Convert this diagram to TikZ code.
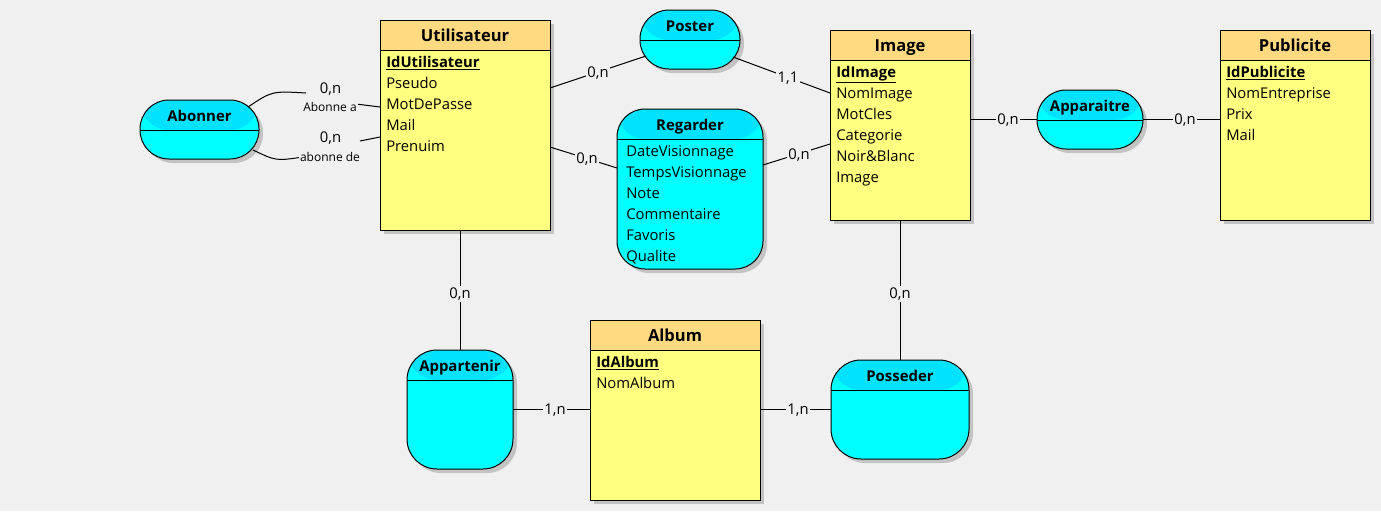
\documentclass[tikz,border=0pt]{standalone}
\usepackage{fontspec}
\setmainfont{Open Sans}
\usetikzlibrary{shadows,calc}
\newcommand\pxu{0.75pt}
\definecolor{bg}{RGB}{240,240,240}
\definecolor{enthead}{RGB}{255,218,128}
\definecolor{entbody}{RGB}{255,255,128}
\definecolor{asshead}{RGB}{0,226,255}
\definecolor{assbody}{RGB}{0,255,255}
\definecolor{shadowc}{RGB}{195,195,195}
\newcommand\keyattr[1]{\underline{\textbf{#1}}}
\newcommand\attrlist[4]{\foreach \t [count=\i] in {#4} {\node[attr] (#1\i) at ($(#2.north west)+(#3,{47+21*(\i-1)})$) {\t};}}
\tikzset{
  box/.style={draw=black, line width=0.75pt, inner sep=0pt, outer sep=0pt, anchor=north west,
    drop shadow={shadow xshift=4*\pxu, shadow yshift=-4*\pxu, fill=shadowc, opacity=1},
    path picture={\fill[#1] (path picture bounding box.north west) rectangle ([yshift=-30*\pxu]path picture bounding box.north east);
      \draw[line width=0.75pt] ([yshift=-30*\pxu]path picture bounding box.north west) -- ([yshift=-30*\pxu]path picture bounding box.north east);}},
  entity/.style={box=enthead, fill=entbody, rectangle},
  assoc/.style={box=asshead, fill=assbody, rounded corners=#1*\pxu},
  etitle/.style={font=\fontsize{12.4}{14}\selectfont\bfseries, anchor=base, inner sep=0pt},
  atitle/.style={font=\fontsize{11.2}{13}\selectfont\bfseries, anchor=base, inner sep=0pt},
  attr/.style={font=\fontsize{11.1}{13}\selectfont, anchor=base west, inner sep=0pt},
  card/.style={font=\fontsize{11.1}{13}\selectfont, fill=bg, inner sep=1pt},
  role/.style={font=\fontsize{9}{10}\selectfont, fill=bg, inner sep=1pt},
  link/.style={draw=black, line width=0.75pt},
}
\begin{document}
\begin{tikzpicture}[x=0.75pt, y=-0.75pt]
\useasboundingbox (0,0) rectangle (1381,511);
\fill[bg] (0,0) rectangle (1381,511);

% entities
\node[entity, minimum width=170*\pxu, minimum height=210*\pxu] (util) at (380,20) {};
\node[entity, minimum width=140*\pxu, minimum height=190*\pxu] (image) at (830,30) {};
\node[entity, minimum width=150*\pxu, minimum height=190*\pxu] (pub) at (1220,30) {};
\node[entity, minimum width=170*\pxu, minimum height=180*\pxu] (album) at (590,320) {};

% associations
\node[assoc=29, minimum width=119*\pxu, minimum height=59*\pxu] (abonner) at (140,100) {};
\node[assoc=29, minimum width=100*\pxu, minimum height=59*\pxu] (poster) at (640,10) {};
\node[assoc=28, minimum width=146*\pxu, minimum height=160*\pxu] (regarder) at (617,109) {};
\node[assoc=29, minimum width=106*\pxu, minimum height=59*\pxu] (appar) at (1037,90) {};
\node[assoc=30, minimum width=106*\pxu, minimum height=119*\pxu] (appart) at (407,350) {};
\node[assoc=30, minimum width=138*\pxu, minimum height=99*\pxu] (posseder) at (831,360) {};

% titles
\node[etitle] (utilT) at ($(util.north)+(0,21.5)$) {Utilisateur};
\node[etitle] (imageT) at ($(image.north)+(0,21.5)$) {Image};
\node[etitle] (pubT) at ($(pub.north)+(0,21.5)$) {Publicite};
\node[etitle] (albumT) at ($(album.north)+(0,21.5)$) {Album};
\node[atitle] (abonnerT) at ($(abonner.north)+(0,21)$) {Abonner};
\node[atitle] (posterT) at ($(poster.north)+(0,21)$) {Poster};
\node[atitle] (regarderT) at ($(regarder.north)+(0,21)$) {Regarder};
\node[atitle] (apparT) at ($(appar.north)+(0,21)$) {Apparaitre};
\node[atitle] (appartT) at ($(appart.north)+(0,21)$) {Appartenir};
\node[atitle] (possederT) at ($(posseder.north)+(0,21)$) {Posseder};

% attributes
\attrlist{ua}{util}{6}{\keyattr{IdUtilisateur},Pseudo,MotDePasse,Mail,Prenuim}
\attrlist{ia}{image}{6}{\keyattr{IdImage},NomImage,MotCles,Categorie,Noir\&Blanc,Image}
\attrlist{pa}{pub}{6}{\keyattr{IdPublicite},NomEntreprise,Prix,Mail}
\attrlist{aa}{album}{6}{\keyattr{IdAlbum},NomAlbum}
\attrlist{ra}{regarder}{9}{DateVisionnage,TempsVisionnage,Note,Commentaire,Favoris,Qualite}

% connectors
\draw[link] ($(util.north east)+(0,68)$) -- ($(poster.south west)+(6,-13)$);
\draw[link] ($(poster.south east)+(-7,-12)$) -- ($(image.north west)+(0,63)$);
\draw[link] ($(util.north east)+(0,127)$) -- ($(regarder.north west)+(0,59)$);
\draw[link] ($(regarder.north east)+(0,56)$) -- ($(image.north west)+(0,114)$);
\draw[link] (appar.west -| image.east) -- (appar.west);
\draw[link] (appar.east) -- (appar.east -| pub.west);
\draw[link] (appart.north) -- (appart.north |- util.south);
\draw[link] (posseder.north) -- (posseder.north |- image.south);
\draw[link] (appart.east) -- (appart.east -| album.west);
\draw[link] (album.east |- posseder.west) -- (posseder.west);
\draw[link] ($(abonner.north east)+(-11,7)$) .. controls (272,91) .. (306,93)
            (356,104) -- ($(util.north west)+(0,87)$);
\draw[link] ($(abonner.south east)+(-6,-9)$) .. controls (276,161) .. (303,157)
            (360,141) -- ($(util.north west)+(0,117)$);

% cardinalities
\node[card] (cUP) at (598,73) {0,n};
\node[card] (cPI) at (788,78) {1,1};
\node[card] (cUR) at (587,159) {0,n};
\node[card] (cRI) at (799,155) {0,n};
\node[card] (cIA) at (1008,120) {0,n};
\node[card] (cAP) at (1185,120) {0,n};
\node[card] (cUApp) at (460,294) {0,n};
\node[card] (cIPo) at (900,294) {0,n};
\node[card] (cAppAl) at (555,410) {1,n};
\node[card] (cAlPo) at (798,410) {1,n};
\node[card] (cAb1) at (330.5,89) {0,n};
\node[role] (rAb1) at (330,107) {Abonne a};
\node[card] (cAb2) at (330.5,138) {0,n};
\node[role] (rAb2) at (330,157) {abonne de};
\end{tikzpicture}
\end{document}
